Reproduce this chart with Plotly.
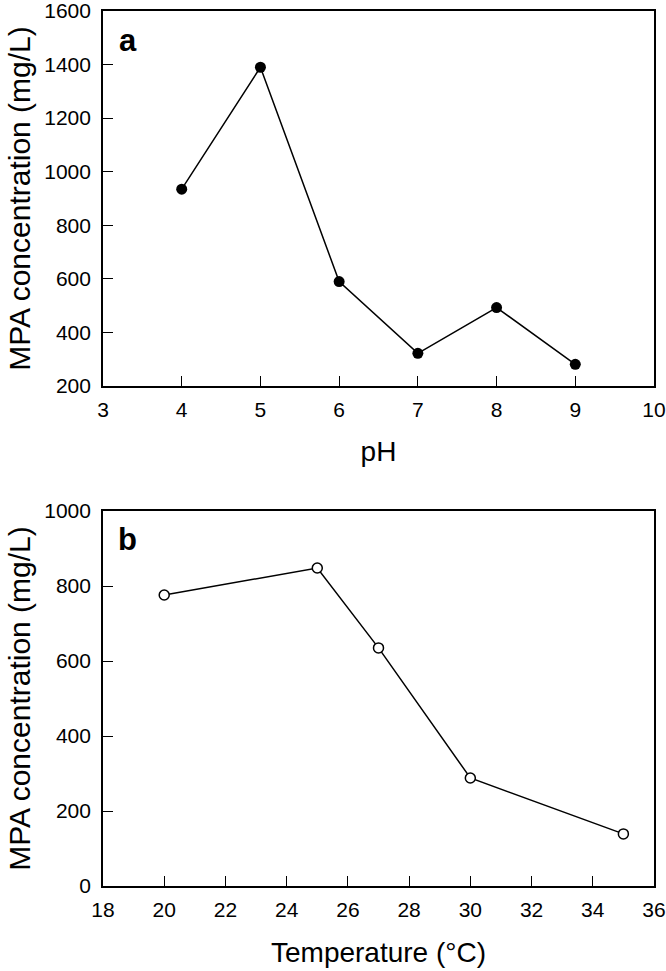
import plotly.graph_objects as go

ph_values = [4, 5, 6, 7, 8, 9]
ph_mpa = [935, 1390, 590, 322, 493, 281]

temp_values = [20, 25, 27, 30, 35]
temp_mpa = [776, 848, 635, 288, 139]

ph_ticks = [3, 4, 5, 6, 7, 8, 9, 10]
ph_yticks = [200, 400, 600, 800, 1000, 1200, 1400, 1600]
temp_ticks = [18, 20, 22, 24, 26, 28, 30, 32, 34, 36]
temp_yticks = [0, 200, 400, 600, 800, 1000]

W, H = 666, 971
FONT = "Liberation Sans, Arial, sans-serif"

fig = go.Figure()
fig.add_trace(go.Scatter(
    x=ph_values, y=ph_mpa, mode="lines+markers",
    line=dict(color="black", width=1.5),
    marker=dict(color="black", size=11, symbol="circle"),
    xaxis="x", yaxis="y", showlegend=False, cliponaxis=False))
fig.add_trace(go.Scatter(
    x=temp_values, y=temp_mpa, mode="lines+markers",
    line=dict(color="black", width=1.5),
    marker=dict(color="white", size=10, symbol="circle",
                line=dict(color="black", width=1.5)),
    xaxis="x2", yaxis="y2", showlegend=False, cliponaxis=False))

xdom = [103 / W, 654 / W]
ydom_a = [1 - 386 / H, 1 - 11 / H]
ydom_b = [1 - 886 / H, 1 - 511 / H]

axis_common = dict(
    showgrid=False, zeroline=False, showline=True, linecolor="black",
    linewidth=1.7, mirror=True, ticks="inside", ticklen=10, tickwidth=1.3,
    tickcolor="black", tickfont=dict(family=FONT, size=21, color="black"),
    automargin=False, ticklabeloverflow="allow",
)
XT = dict(family=FONT, size=28, color="black")
YT = dict(family=FONT, size=30, color="black")

fig.update_layout(
    width=W, height=H,
    margin=dict(l=0, r=0, t=0, b=0),
    paper_bgcolor="white", plot_bgcolor="white",
    font=dict(family=FONT, color="black"),
    xaxis=dict(domain=xdom, anchor="y", range=[3, 10], tickvals=ph_ticks,
               ticklabelstandoff=4,
               title=dict(text="pH", font=XT, standoff=21),
               **axis_common),
    yaxis=dict(domain=ydom_a, anchor="x", range=[200, 1600], tickvals=ph_yticks,
               ticklabelstandoff=6,
               title=dict(text="MPA concentration (mg/L)", font=YT, standoff=5),
               **axis_common),
    xaxis2=dict(domain=xdom, anchor="y2", range=[18, 36], tickvals=temp_ticks,
                ticklabelstandoff=4,
                title=dict(text="Temperature (°C)", font=XT, standoff=22),
                **axis_common),
    yaxis2=dict(domain=ydom_b, anchor="x2", range=[0, 1000], tickvals=temp_yticks,
                ticklabelstandoff=6,
                title=dict(text="MPA concentration (mg/L)", font=YT, standoff=5),
                **axis_common),
    annotations=[
        dict(text="<b>a</b>", xref="x domain", yref="y domain", x=0.045, y=0.92,
             xanchor="center", yanchor="middle", showarrow=False,
             font=dict(family=FONT, size=31, color="black")),
        dict(text="<b>b</b>", xref="x2 domain", yref="y2 domain", x=0.045, y=0.925,
             xanchor="center", yanchor="middle", showarrow=False,
             font=dict(family=FONT, size=31, color="black")),
    ],
)

fig.write_html("out.html",
               config={"displayModeBar": False},
               post_script="document.body.style.margin='0';document.body.style.overflow='hidden';")
